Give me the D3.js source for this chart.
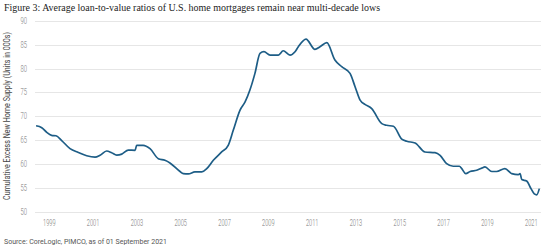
<!DOCTYPE html>
<html>
<head>
<meta charset="utf-8">
<script src="https://cdn.jsdelivr.net/npm/d3@7"></script>
<style>
  body { margin: 0; background: #fff; }
  svg { display: block; }
</style>
</head>
<body>
<div id="chart"></div>
<script>
'use strict'

// decimal years
const years = [
    1998.41, 1998.67, 1998.9, 1999.12, 1999.32, 1999.58, 1999.96, 2000.34, 2000.72,
    2001.1, 2001.33, 2001.63, 2001.86, 2002.09, 2002.32, 2002.62, 2002.93, 2003.0,
    2003.3, 2003.61, 2003.99, 2004.29, 2004.52, 2004.98, 2005.13, 2005.36, 2005.66,
    2005.97, 2006.2, 2006.5, 2006.88, 2007.18, 2007.41, 2007.72, 2007.95, 2008.17,
    2008.4, 2008.63, 2008.81, 2009.09, 2009.47, 2009.69, 2010.0, 2010.23, 2010.38,
    2010.73, 2011.14, 2011.37, 2011.68, 2012.05, 2012.36, 2012.74, 2012.97, 2013.2,
    2013.42, 2013.73, 2014.19, 2014.41, 2014.72, 2015.1, 2015.33, 2015.71, 2016.16,
    2016.62, 2016.85, 2017.15, 2017.45, 2017.73, 2017.84, 2018.02, 2018.22, 2018.52,
    2018.75, 2018.9, 2019.21, 2019.43, 2019.81, 2020.12, 2020.42, 2020.5, 2020.58,
    2020.8, 2021.0, 2021.15, 2021.26, 2021.38
]

// average loan-to-value ratio
const ltv = [
    68.0, 67.6, 66.6, 66.0, 65.9, 64.9, 63.2, 62.4, 61.7,
    61.4, 61.8, 62.7, 62.35, 61.85, 62.05, 62.9, 62.85, 63.9,
    63.9, 63.2, 61.1, 60.75, 60.2, 58.4, 57.95, 57.9, 58.3,
    58.3, 59.0, 60.75, 62.5, 63.9, 67.05, 71.3, 73.0, 75.5,
    79.0, 83.2, 83.55, 82.85, 82.85, 83.75, 82.85, 83.55, 84.6,
    86.2, 84.05, 84.6, 85.45, 81.8, 80.4, 79.0, 76.2, 73.4,
    72.5, 71.6, 68.45, 68.1, 67.9, 65.2, 64.75, 64.4, 62.5,
    62.35, 61.8, 60.05, 59.5, 59.5, 59.0, 57.95, 58.4, 58.65,
    59.1, 59.35, 58.4, 58.4, 59.0, 57.95, 57.75, 57.95, 56.7,
    56.4, 54.8, 53.7, 53.5, 54.8
]

const xTicks = [1999, 2001, 2003, 2005, 2007, 2009, 2011, 2013, 2015, 2017, 2019, 2021]
const yTicks = [50, 55, 60, 65, 70, 75, 80, 85, 90]

const titleText = 'Figure 3: Average loan-to-value ratios of U.S. home mortgages remain near multi-decade lows'
const yTitle = 'Cumulative Excess New Home Supply (Units in 000s)'
const sourceText = 'Source: CoreLogic, PIMCO, as of 01 September 2021'

const width = 554, height = 252
const gridLeft = 35, gridRight = 541

const data = years.map((d, i) => ({ year: d, value: ltv[i] }))

const svg = d3.select('#chart')
    .append('svg')
    .attr('width', width)
    .attr('height', height)

const x = d3.scaleLinear().domain([1999, 2021]).range([49, 531])
const y = d3.scaleLinear().domain([50, 90]).range([211.5, 21])

// gridlines
svg.append('g')
    .selectAll('line')
    .data(yTicks)
    .join('line')
    .attr('x1', gridLeft)
    .attr('x2', gridRight)
    .attr('y1', (d) => Math.round(y(d)) + 0.5)
    .attr('y2', (d) => Math.round(y(d)) + 0.5)
    .attr('stroke', '#e6e6e6')
    .attr('stroke-width', 1)

// y tick labels
svg.append('g')
    .selectAll('text')
    .data(yTicks)
    .join('text')
    .attr('x', 27)
    .attr('y', (d) => y(d) + 3)
    .attr('text-anchor', 'end')
    .attr('font-family', 'Roboto, sans-serif')
    .attr('font-size', 8.5)
    .attr('font-weight', 300)
    .attr('fill', '#777')
    .attr('textLength', 6.5)
    .attr('lengthAdjust', 'spacingAndGlyphs')
    .text((d) => d)

// x tick labels
svg.append('g')
    .selectAll('text')
    .data(xTicks)
    .join('text')
    .attr('x', (d) => x(d) - 6)
    .attr('y', 226)
    .attr('font-family', 'Roboto, sans-serif')
    .attr('font-size', 8.5)
    .attr('font-weight', 300)
    .attr('fill', '#777')
    .attr('textLength', 12.5)
    .attr('lengthAdjust', 'spacingAndGlyphs')
    .text((d) => d)

// y axis title
svg.append('text')
    .attr('transform', 'translate(10,116) rotate(-90)')
    .attr('text-anchor', 'middle')
    .attr('font-family', 'Roboto, sans-serif')
    .attr('font-size', 8.5)
    .attr('fill', '#444')
    .attr('textLength', 168)
    .attr('lengthAdjust', 'spacingAndGlyphs')
    .text(yTitle)

// the series
const line = d3.line()
    .x((d) => x(d.year))
    .y((d) => y(d.value))
    .curve(d3.curveMonotoneX)

svg.append('path')
    .datum(data)
    .attr('d', line)
    .attr('fill', 'none')
    .attr('stroke', '#1d5d86')
    .attr('stroke-width', 1.7)
    .attr('stroke-linejoin', 'round')

// title
svg.append('text')
    .attr('x', 4)
    .attr('y', 11)
    .attr('font-family', '"Liberation Serif", serif')
    .attr('font-size', 10.5)
    .attr('fill', '#222')
    .attr('textLength', 376)
    .attr('lengthAdjust', 'spacingAndGlyphs')
    .text(titleText)

// source
svg.append('text')
    .attr('x', 4)
    .attr('y', 244)
    .attr('font-family', 'Roboto, sans-serif')
    .attr('font-size', 8)
    .attr('fill', '#555')
    .attr('textLength', 163)
    .attr('lengthAdjust', 'spacingAndGlyphs')
    .text(sourceText)
</script>
</body>
</html>
